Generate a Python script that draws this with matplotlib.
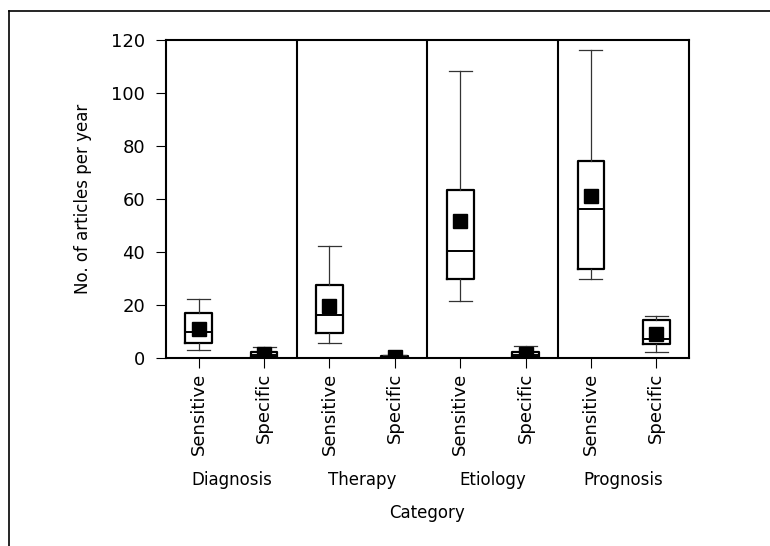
import matplotlib.pyplot as plt
from matplotlib.lines import Line2D

categories = ["Diagnosis", "Therapy", "Etiology", "Prognosis"]
groups = ["Sensitive", "Specific"]

# per box, order: Diag sens, Diag spec, Ther sens, Ther spec, Etio sens, Etio spec, Prog sens, Prog spec
whis_lo = [3.0, 0.0, 5.8, 0.0, 21.4, 0.0, 29.8, 2.1]
q1 = [5.8, 0.3, 9.6, 0.0, 29.7, 0.5, 33.7, 5.2]
median = [9.9, 1.0, 16.1, 0.3, 40.5, 1.0, 56.4, 7.2]
q3 = [16.9, 2.4, 27.4, 0.8, 63.5, 2.3, 74.5, 14.2]
whis_hi = [22.3, 4.0, 42.1, 1.2, 108.2, 4.5, 116.3, 16.0]
mean = [10.9, 1.4, 19.5, 0.3, 51.6, 1.4, 61.0, 9.1]

plt.rcParams['font.family'] = ['DejaVu Sans']
fig = plt.figure(figsize=(7.7, 5.46), dpi=100)
ax = fig.add_axes([166 / 770, 1 - 358 / 546, (689 - 166) / 770, (358 - 40) / 546])

stats = []
for i in range(len(median)):
    stats.append(dict(whislo=whis_lo[i], q1=q1[i], med=median[i], q3=q3[i],
                      whishi=whis_hi[i], mean=mean[i], fliers=[]))
positions = [0.5 + i for i in range(len(stats))]

ax.bxp(stats, positions=positions, widths=0.41, capwidths=0.35, showmeans=True,
       boxprops=dict(color='black', linewidth=1.6),
       medianprops=dict(color='black', linewidth=1.4),
       whiskerprops=dict(color='#333333', linewidth=0.9),
       capprops=dict(color='#333333', linewidth=0.9),
       meanprops=dict(marker='s', markerfacecolor='black', markeredgecolor='black',
                      markersize=9.5))

for x in [2, 4, 6]:
    ax.axvline(x, color='black', linewidth=1.5)

ax.set_xlim(0, 8)
ax.set_ylim(0, 120)
ax.set_yticks(range(0, 121, 20))
ax.set_xticks(positions)
ax.set_xticklabels(groups * 4, rotation=90)
ax.tick_params(axis='both', direction='out', length=7, width=0.8, labelsize=13)
ax.tick_params(axis='y', pad=8)
ax.tick_params(axis='x', pad=3.5)
for s in ax.spines.values():
    s.set_linewidth(1.5)

ax.set_ylabel("No. of articles per year", fontsize=12, labelpad=14)

for i, c in enumerate(categories):
    ax.text(1 + 2 * i, -46, c, ha='center', va='center', fontsize=12,
            transform=ax.transData, clip_on=False)
ax.text(4, -58.5, "Category", ha='center', va='center', fontsize=12, clip_on=False)

# outer frame (left and top edges visible)
fig.add_artist(Line2D([9 / 770, 9 / 770], [0, 1 - 11 / 546], color='black', linewidth=1.2,
                      transform=fig.transFigure))
fig.add_artist(Line2D([9 / 770, 1], [1 - 11 / 546, 1 - 11 / 546], color='black', linewidth=1.2,
                      transform=fig.transFigure))

fig.savefig("out.png", dpi=100)
